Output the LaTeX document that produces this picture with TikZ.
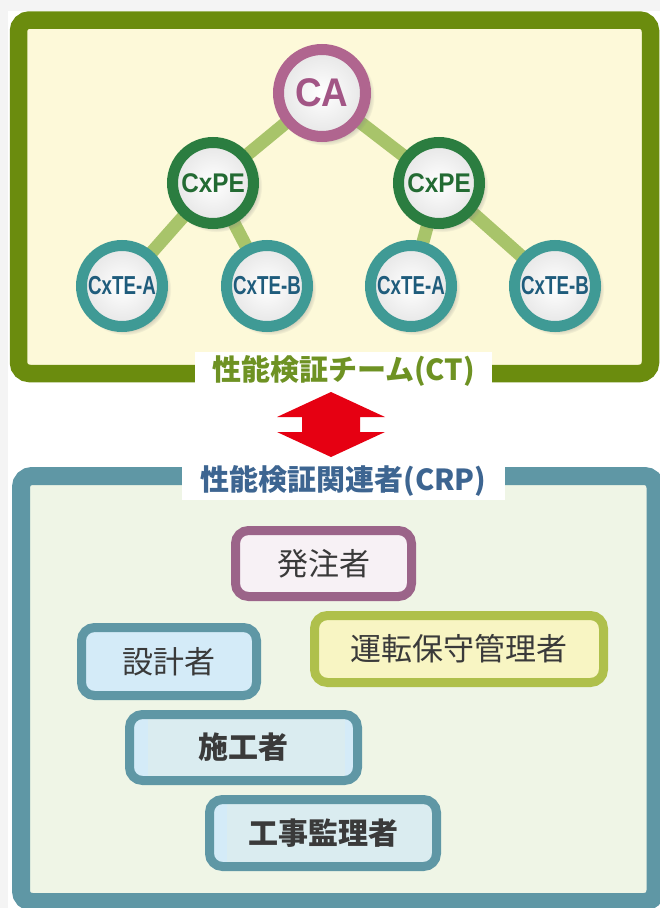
\documentclass[tikz,border=0pt]{standalone}
\usepackage{fontspec}
\setmainfont{Liberation Sans}
\newfontfamily\jp{Noto Sans CJK JP}
\usetikzlibrary{shadows,calc}
\pgfdeclarelayer{back}
\pgfdeclarelayer{mid}
\pgfsetlayers{back,mid,main}
\definecolor{pagegray}{HTML}{F4F4F4}
\definecolor{topgreen}{HTML}{6B8C0E}
\definecolor{topfill}{HTML}{FDF9D9}
\definecolor{botteal}{HTML}{5F97A5}
\definecolor{botfill}{HTML}{EFF5E6}
\definecolor{caring}{HTML}{B0658F}
\definecolor{catext}{HTML}{A25585}
\definecolor{pering}{HTML}{2B7D40}
\definecolor{petext}{HTML}{236B33}
\definecolor{tering}{HTML}{3F9A95}
\definecolor{tetext}{HTML}{1F5C7C}
\definecolor{conncol}{HTML}{A8C46A}
\definecolor{ctcol}{HTML}{6E9223}
\definecolor{crpcol}{HTML}{3D6591}
\definecolor{arrowred}{HTML}{E60012}
\definecolor{roletext}{HTML}{3A3A3A}
\definecolor{mauvering}{HTML}{9B6489}
\definecolor{pinkfill}{HTML}{F7F1F5}
\definecolor{lbluefill}{HTML}{D4EBF8}
\definecolor{artif}{HTML}{DAECF0}
\definecolor{olivering}{HTML}{AFC04B}
\definecolor{yellowfill}{HTML}{F8F5C3}
\tikzset{
  ring/.style={circle, inner sep=0pt, line width=11pt, shade, inner color=white, outer color=black!10,
    circular drop shadow={shadow xshift=3pt, shadow yshift=-3pt, shadow scale=1.13, opacity=0.45}},
  canode/.style={ring, draw=caring, minimum size=87pt, text=catext, font=\fontsize{40}{42}\selectfont\bfseries},
  penode/.style={ring, draw=pering, minimum size=81pt, text=petext, font=\fontsize{27}{29}\selectfont\bfseries},
  tenode/.style={ring, draw=tering, minimum size=81pt, text=tetext, font=\fontsize{26}{28}\selectfont\bfseries},
  conn/.style={line width=13pt, draw=conncol},
  rolebox/.style={rounded corners=13pt, line width=9pt, inner sep=0pt, text=roletext, font=\jp\fontsize{31}{33}\selectfont},
  roleboxb/.style={rolebox, font=\jp\bfseries\fontsize{30}{32}\selectfont},
  grouplabel/.style={fill=white, minimum height=38pt, inner sep=0pt, font=\jp\bfseries\fontsize{29}{31}\selectfont}
}
\begin{document}
\begin{tikzpicture}[x=1pt,y=-1pt]
\useasboundingbox (0,0) rectangle (660,908);
\begin{pgfonlayer}{back}
  \fill[pagegray] (0,0) rectangle (660,908);
  \fill[white] (8.3,10.5) rectangle (660,908);
  \draw[line width=17.5pt, draw=topgreen, fill=topfill, rounded corners=11pt] (18.5,20) rectangle (650.5,373.5);
  \draw[line width=18pt, draw=botteal, fill=botfill, rounded corners=11pt] (21,476) rectangle (655.5,902);
\end{pgfonlayer}

% commissioning team
\node[canode] (ca) at (322,93) {\scalebox{0.92}[1]{CA}};
\node[penode] (pe1) at (213,183) {\scalebox{0.9}[1]{CxPE}};
\node[penode] (pe2) at (439,183) {\scalebox{0.9}[1]{CxPE}};
\node[tenode] (te1) at (122,286) {\scalebox{0.72}[1]{CxTE-A}};
\node[tenode] (te2) at (267,286) {\scalebox{0.72}[1]{CxTE-B}};
\node[tenode] (te3) at (411,286) {\scalebox{0.72}[1]{CxTE-A}};
\node[tenode] (te4) at (555,286) {\scalebox{0.72}[1]{CxTE-B}};
\begin{pgfonlayer}{mid}
  \draw[conn] (ca.center) -- (pe1.center);
  \draw[conn] (ca.center) -- (pe2.center);
  \draw[conn] (pe1.center) -- (te1.center);
  \draw[conn] (pe1.center) -- (te2.center);
  \draw[conn] (pe2.center) -- (te3.center);
  \draw[conn] (pe2.center) -- (te4.center);
\end{pgfonlayer}

% group labels
\node[grouplabel, minimum width=297pt, text=ctcol] (ct) at (343.5,371) {性能検証チーム(CT)};
\node[grouplabel, minimum width=323pt, text=crpcol] (crp) at (343.5,481) {性能検証関連者(CRP)};

% double arrow
\fill[arrowred] (331,392) -- (385,417) -- (360,417) -- (360,432) -- (385,432) -- (331,457)
  -- (277,432) -- (302,432) -- (302,417) -- (277,417) -- cycle;

% related parties
\node[rolebox, draw=mauvering, fill=pinkfill, minimum width=176pt, minimum height=66pt] (hacchu) at (323.5,563.5) {発注者};
\node[rolebox, draw=botteal, fill=lbluefill, minimum width=175pt, minimum height=68pt] (sekkei) at (169,661.5) {設計者};
\node[rolebox, draw=olivering, fill=yellowfill, minimum width=289pt, minimum height=67pt] (unten) at (459,649) {運転保守管理者};
\node[roleboxb, draw=botteal, fill=lbluefill, minimum width=228pt, minimum height=66pt,
  path picture={\fill[artif, sharp corners] ($(path picture bounding box.center)+(-95.5,-29.5)$) rectangle ($(path picture bounding box.center)+(101.5,30.5)$);}] (seko) at (243.5,747.5) {施工者};
\node[roleboxb, draw=botteal, fill=lbluefill, minimum width=227pt, minimum height=67pt,
  path picture={\fill[artif, sharp corners] ($(path picture bounding box.center)+(-96,-30)$) rectangle ($(path picture bounding box.center)+(114,30)$);}] (kanri) at (323,833) {工事監理者};
\end{tikzpicture}
\end{document}
